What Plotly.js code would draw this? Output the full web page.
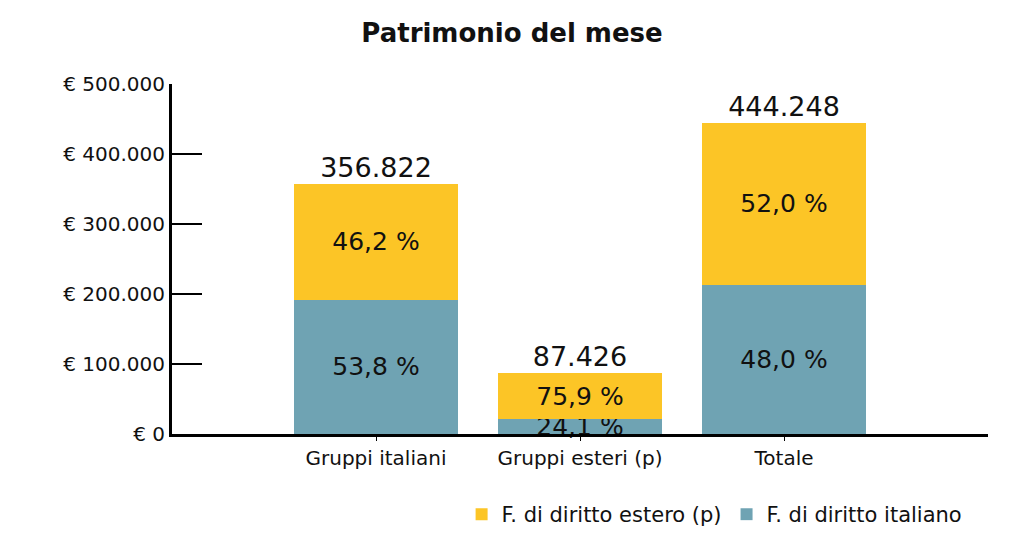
<!DOCTYPE html>
<html>
<head>
<meta charset="utf-8">
<script src="https://cdn.plot.ly/plotly-3.0.1.min.js"></script>
<style>
  html, body { margin: 0; padding: 0; background: #fff; }
  #chart { width: 1024px; height: 554px; }
</style>
</head>
<body>
<div id="chart"></div>
<script>
  const categories = ["Gruppi italiani", "Gruppi esteri (p)", "Totale"];
  const italiano = [191970, 21070, 213040];
  const estero = [164852, 66356, 231208];
  const totali = [356822, 87426, 444248];
  const italianoLabels = ["53,8 %", "24,1 %", "48,0 %"];
  const esteroLabels = ["46,2 %", "75,9 %", "52,0 %"];
  const totaliLabels = ["356.822", "87.426", "444.248"];
  const yTicks = [0, 100000, 200000, 300000, 400000, 500000];
  const yTickLabels = ["€ 0", "€ 100.000", "€ 200.000", "€ 300.000", "€ 400.000", "€ 500.000"];

  const font = "DejaVu Sans, Verdana, sans-serif";

  let traceItaliano = {
    type: "bar",
    x: categories,
    y: italiano,
    name: "F. di diritto italiano",
    marker: { color: "#6fa3b3" },
    text: italianoLabels,
    textposition: "inside",
    insidetextanchor: "middle",
    textangle: 0,
    constraintext: "none",
    insidetextfont: { family: font, size: 25, color: "#111" },
    cliponaxis: false,
    hoverinfo: "skip",
  };

  let traceEstero = {
    type: "bar",
    x: categories,
    y: estero,
    name: "F. di diritto estero (p)",
    marker: { color: "#fcc526" },
    text: esteroLabels,
    textposition: "inside",
    insidetextanchor: "middle",
    textangle: 0,
    constraintext: "none",
    insidetextfont: { family: font, size: 25, color: "#111" },
    cliponaxis: false,
    hoverinfo: "skip",
  };

  // totals written above each stack
  let traceTotali = {
    type: "scatter",
    mode: "text",
    x: categories,
    y: totali,
    text: totaliLabels,
    textposition: "top center",
    textfont: { family: font, size: 27, color: "#111" },
    showlegend: false,
    cliponaxis: false,
    hoverinfo: "skip",
  };

  let layout = {
    width: 1024,
    height: 554,
    margin: { l: 172, r: 36, t: 84, b: 120 },
    paper_bgcolor: "#fff",
    plot_bgcolor: "#fff",
    barmode: "stack",
    bargap: 0.2,
    font: { family: font, size: 20, color: "#111" },
    title: {
      text: "Patrimonio del mese",
      x: 0.5,
      xref: "container",
      xanchor: "center",
      y: 0.94,
      yanchor: "middle",
      font: { family: font, size: 26, weight: "bold", color: "#111" },
    },
    xaxis: {
      type: "category",
      range: [-1, 3],
      showline: true,
      linecolor: "#000",
      linewidth: 3,
      ticks: "outside",
      ticklen: 4,
      tickwidth: 1,
      tickcolor: "#000",
      showgrid: false,
      zeroline: false,
      tickfont: { family: font, size: 20, color: "#111" },
      fixedrange: true,
    },
    yaxis: {
      range: [0, 500000],
      tickmode: "array",
      tickvals: yTicks,
      ticktext: yTickLabels,
      showline: true,
      linecolor: "#000",
      linewidth: 3,
      ticks: "inside",
      ticklen: 30,
      tickwidth: 2,
      tickcolor: "#000",
      showgrid: false,
      zeroline: false,
      tickfont: { family: font, size: 20, color: "#111" },
      fixedrange: true,
    },
    legend: {
      orientation: "h",
      x: 0.975,
      xanchor: "right",
      y: -0.23,
      yanchor: "middle",
      font: { family: font, size: 21, color: "#111" },
    },
  };

  let config = { staticPlot: true };

  Plotly.newPlot("chart", [traceItaliano, traceEstero, traceTotali], layout, config);
</script>
</body>
</html>
